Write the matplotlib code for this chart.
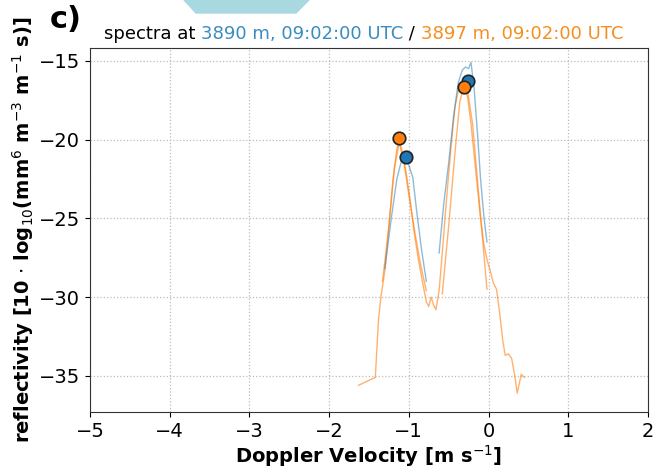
import numpy as np
import matplotlib
matplotlib.use("Agg")
import matplotlib.pyplot as plt
from matplotlib.patches import Polygon

nan = np.nan

# full orange spectrum (3897 m)
orange_v = [-1.63, -1.42, -1.38, -1.35, -1.30, -1.25, -1.20, -1.15, -1.12, -1.08,
            -1.03, -0.98, -0.93, -0.88, -0.83, -0.78, -0.75, -0.72, -0.69, -0.66,
            -0.62, -0.58, -0.54, -0.50, -0.46, -0.42, -0.38, -0.34, -0.30, -0.26,
            -0.22, -0.18, -0.14, -0.10, -0.06, -0.02, 0.02, 0.06, 0.10, 0.14,
            0.18, 0.21, 0.25, 0.29, 0.33, 0.36, 0.39, 0.41, 0.45]
orange_r = [-35.6, -35.1, -31.4, -30.0, -28.3, -25.5, -22.6, -20.6, -20.0, -20.8,
            -22.2, -24.0, -26.0, -27.6, -29.0, -30.3, -30.6, -30.0, -30.5, -30.8,
            -29.6, -27.2, -24.6, -22.2, -19.9, -17.9, -16.9, -16.4, -16.5, -17.4,
            -19.0, -21.0, -23.0, -25.0, -26.6, -27.6, -28.3, -29.1, -29.5, -31.0,
            -32.8, -33.7, -33.6, -33.9, -35.0, -36.1, -35.4, -34.9, -35.1]

# second orange trace (peak fits)
orange2_v = [-1.33, -1.25, -1.18, -1.12, -1.06, -1.00, -0.92, -0.85, -0.78, nan,
             -0.58, -0.50, -0.42, -0.36, -0.31, -0.26, -0.20, -0.14, -0.08, -0.02]
orange2_r = [-29.0, -25.5, -21.8, -20.2, -21.5, -23.5, -26.0, -28.0, -29.6, nan,
             -29.8, -25.5, -20.8, -17.6, -16.6, -17.0, -19.0, -22.5, -26.0, -29.5]

# blue spectrum (3890 m)
blue_v = [-1.30, -1.22, -1.15, -1.09, -1.04, -0.99, -0.95, -0.90, -0.84, -0.78, nan,
          -0.62, -0.56, -0.50, -0.44, -0.38, -0.33, -0.29, -0.25, -0.22, -0.18,
          -0.14, -0.10, -0.06, -0.02]
blue_r = [-28.2, -25.0, -22.5, -21.3, -20.9, -21.8, -22.4, -24.6, -27.0, -29.0, nan,
          -27.2, -24.0, -21.5, -18.6, -16.4, -15.6, -15.4, -15.5, -15.1, -16.8,
          -19.5, -22.5, -24.8, -26.5]

# detected peaks
blue_peak_v = [-1.04, -0.26]
blue_peak_r = [-21.1, -16.3]
orange_peak_v = [-1.12, -0.31]
orange_peak_r = [-19.9, -16.65]

c_blue = "#1f77b4"
c_orange = "#ff7f0e"

fig = plt.figure(figsize=(6.69, 4.72), dpi=100)
ax = fig.add_axes([0.1345, 0.127, 0.834, 0.771])

ax.plot(orange_v, orange_r, color=c_orange, lw=1.0, alpha=0.6)
ax.plot(orange2_v, orange2_r, color=c_orange, lw=1.0, alpha=0.6)
ax.plot(blue_v, blue_r, color=c_blue, lw=1.0, alpha=0.5)
ax.plot(blue_peak_v, blue_peak_r, 'o', color=c_blue, ms=9, mec='#222222', mew=1.2, zorder=5)
ax.plot(orange_peak_v, orange_peak_r, 'o', color=c_orange, ms=9, mec='#222222', mew=1.2, zorder=6)

ax.set_xlim(-5, 2)
ax.set_ylim(-37.3, -14.2)
ax.set_xticks(range(-5, 3))
ax.set_yticks([-35, -30, -25, -20, -15])
ax.grid(True, linestyle=':', color='#bbbbbb', lw=0.9)
ax.tick_params(labelsize=14)
for s in ax.spines.values():
    s.set_color('#333333')

ax.set_xlabel(r"Doppler Velocity [m s$^{-1}$]", fontsize=14, fontweight='bold', labelpad=2)
ax.set_ylabel(r"reflectivity [10 $\cdot$ log$_{10}$(mm$^6$ m$^{-3}$ m$^{-1}$ s)]",
              fontsize=14, fontweight='bold', labelpad=2)

# multi-coloured title
t0 = ax.text(0.025, 1.015, "spectra at ", transform=ax.transAxes, fontsize=13,
             color='black', va='bottom', ha='left')
parts = [("3890 m, 09:02:00 UTC", "#3a8dc0"), (" / ", "black"),
         ("3897 m, 09:02:00 UTC", "#f39020")]
prev = t0
for txt, col in parts:
    prev = ax.annotate(txt, xy=(1, 0), xycoords=prev, fontsize=13, color=col,
                       va='bottom', ha='left')

fig.text(0.075, 1 - 19 / 472, "c)", fontsize=22, fontweight='bold', va='center', ha='left')

fig.patches.append(Polygon([[184 / 669, 1.0], [309 / 669, 1.0], [296 / 669, 1 - 13 / 472],
                            [196 / 669, 1 - 13 / 472]], closed=True,
                           transform=fig.transFigure, color='#a9d9e0', zorder=0))

fig.savefig("out.png", dpi=100)
